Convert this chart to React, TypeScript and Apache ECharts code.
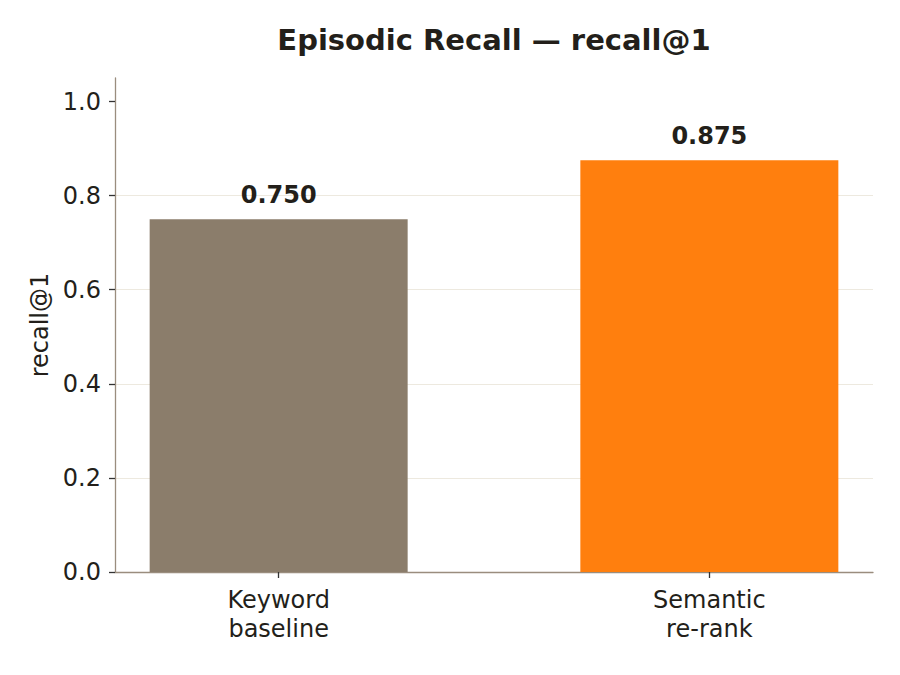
import React, { useEffect, useRef } from "react";
import * as echarts from "echarts";

const categories = ["Keyword\nbaseline", "Semantic\nre-rank"];
const positions = [0, 1];
const values = [0.75, 0.875];
const barColors = ["#8b7d6b", "#ff7f0e"];
const yTicks = [0, 0.2, 0.4, 0.6, 0.8, 1.0];

export default function App() {
  const ref = useRef<HTMLDivElement>(null);
  useEffect(() => {
    if (!ref.current) return;
    const chart = echarts.init(ref.current, undefined, { renderer: "svg" });
    const font = "DejaVu Sans";
    const ink = "#231f1a";
    chart.setOption({
      animation: false,
      backgroundColor: "#ffffff",
      textStyle: { fontFamily: font },
      title: {
        text: "Episodic Recall — recall@1",
        left: 489,
        textAlign: "center",
        top: 20,
        textStyle: { fontFamily: font, fontSize: 29, fontWeight: "bold", color: ink },
      },
      grid: { left: 115, right: 27, top: 78, bottom: 103, containLabel: false },
      xAxis: {
        type: "value",
        min: -0.38,
        max: 1.38,
        axisLine: { show: true, onZero: false, lineStyle: { color: "#9a8d7e", width: 1.3 } },
        axisTick: {
          show: true,
          customValues: positions,
          length: 6,
          lineStyle: { color: "#333333", width: 1.3 },
        },
        axisLabel: {
          customValues: positions,
          formatter: (v: number) => {
            const i = positions.indexOf(Math.round(v));
            return i >= 0 ? categories[i] : "";
          },
          fontFamily: font,
          fontSize: 24,
          color: ink,
          lineHeight: 28.5,
          margin: 14,
        },
        splitLine: { show: false },
      },
      yAxis: {
        type: "value",
        min: 0,
        max: 1.05,
        interval: 0.2,
        name: "recall@1",
        nameLocation: "middle",
        nameGap: 63,
        nameTextStyle: { fontFamily: font, fontSize: 24, color: ink },
        axisLine: { show: true, onZero: false, lineStyle: { color: "#9a8d7e", width: 1.3 } },
        axisTick: {
          show: true,
          customValues: yTicks,
          length: 6,
          lineStyle: { color: "#333333", width: 1.3 },
        },
        axisLabel: {
          customValues: yTicks,
          formatter: (v: number) => v.toFixed(1),
          fontFamily: font,
          fontSize: 24,
          color: ink,
          margin: 14,
        },
        splitLine: {
          show: true,
          showMinLine: false,
          showMaxLine: false,
          lineStyle: { color: "#ede9df", width: 1.2 },
        },
      },
      series: [
        {
          type: "bar",
          barWidth: 258,
          data: positions.map((p, i) => ({
            value: [p, values[i]],
            itemStyle: { color: barColors[i] },
          })),
          label: {
            show: true,
            position: "top",
            distance: 12,
            formatter: (p: any) => p.value[1].toFixed(3),
            fontFamily: font,
            fontSize: 24,
            fontWeight: "bold",
            color: ink,
          },
        },
      ],
    });
    return () => chart.dispose();
  }, []);
  return (
    <div style={{ position: "fixed", left: 0, top: 0, width: 900, height: 675, background: "#fff" }}>
      <div ref={ref} style={{ width: 900, height: 675 }} />
    </div>
  );
}
